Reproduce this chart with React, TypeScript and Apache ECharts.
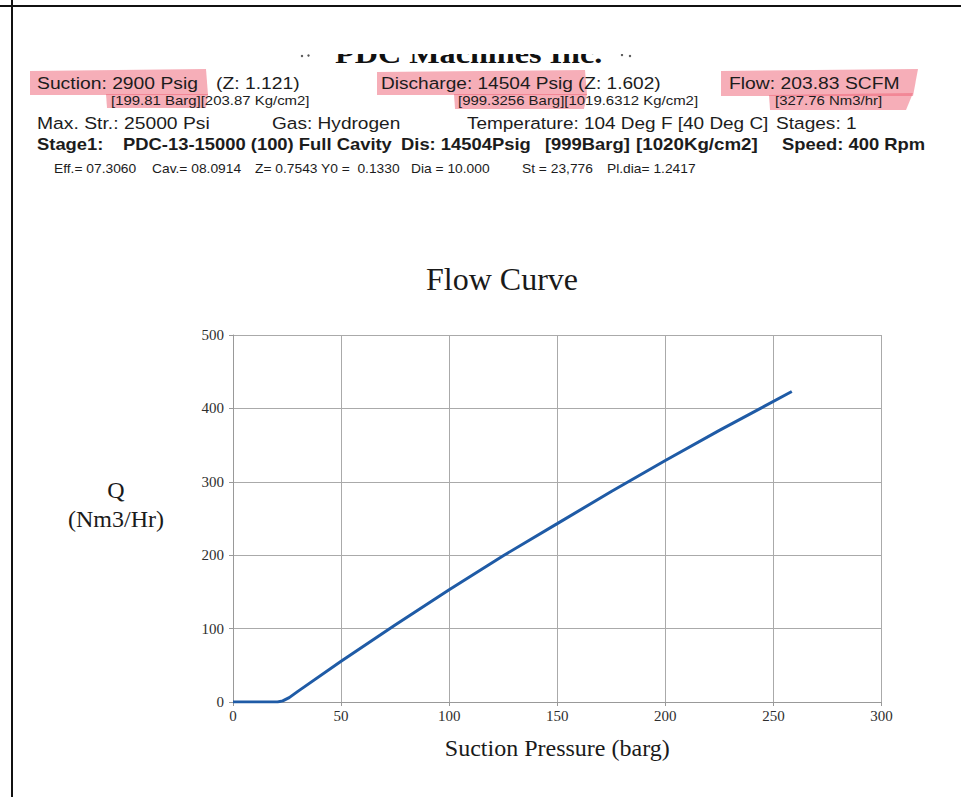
import React, { useEffect, useRef } from "react";
import * as echarts from "echarts";

// Flow curve data
const suctionPressure = [0, 20.6, 23, 26, 30, 50, 75, 100, 125, 150, 175, 200, 225, 258.5];
const flowNm3 = [0, 0, 1.5, 6, 14.5, 55.5, 104.8, 153, 199.3, 243, 286.8, 329, 370, 423];

const xMin = 0;
const xMax = 300;
const xInterval = 50;
const yMin = 0;
const yMax = 500;
const yInterval = 100;

const SANS = "Liberation Sans, Arial, sans-serif";
const SERIF = "Liberation Serif, Times New Roman, serif";
const STRETCH = 1.15;

type Piece = { text: string; x: number; y: number; size: number; bold?: boolean };

const headerPieces: Piece[] = [
  { text: "Suction: 2900 Psig", x: 37, y: 83.7, size: 16.8 },
  { text: "(Z: 1.121)", x: 216, y: 83.7, size: 16.8 },
  { text: "Discharge: 14504 Psig", x: 381, y: 83.7, size: 16.6 },
  { text: "(Z: 1.602)", x: 578, y: 83.7, size: 16.6 },
  { text: "Flow: 203.83 SCFM", x: 729, y: 83.7, size: 16.8 },
  { text: "[199.81 Barg][203.87 Kg/cm2]", x: 111, y: 100.3, size: 13 },
  { text: "[999.3256 Barg][1019.6312 Kg/cm2]", x: 458, y: 100.3, size: 13 },
  { text: "[327.76 Nm3/hr]", x: 775, y: 100.3, size: 13 },
  { text: "Max. Str.: 25000 Psi", x: 37, y: 123, size: 16.8 },
  { text: "Gas: Hydrogen", x: 272, y: 123, size: 16.6 },
  { text: "Temperature: 104 Deg F [40 Deg C]", x: 467, y: 123, size: 16.5 },
  { text: "Stages: 1", x: 776, y: 123, size: 16.6 },
  { text: "Stage1:", x: 37, y: 144, size: 16, bold: true },
  { text: "PDC-13-15000 (100) Full Cavity", x: 123, y: 144, size: 16, bold: true },
  { text: "Dis: 14504Psig", x: 401, y: 144, size: 16, bold: true },
  { text: "[999Barg]", x: 545, y: 144, size: 16, bold: true },
  { text: "[1020Kg/cm2]", x: 636, y: 144, size: 16.3, bold: true },
  { text: "Speed: 400 Rpm", x: 782, y: 144, size: 16, bold: true },
  { text: "Eff.= 07.3060", x: 54, y: 169, size: 12 },
  { text: "Cav.= 08.0914", x: 152, y: 169, size: 12 },
  { text: "Z= 0.7543", x: 255, y: 169, size: 12 },
  { text: "Y0 =  0.1330", x: 321, y: 169, size: 12 },
  { text: "Dia = 10.000", x: 411, y: 169, size: 12 },
  { text: "St = 23,776", x: 522, y: 169, size: 12 },
  { text: "Pl.dia= 1.2417", x: 607, y: 169, size: 12 },
];

const highlightShapes: number[][][] = [
  [[30, 71], [206, 69], [208, 95], [30, 95]],
  [[106, 94], [208, 94], [206, 108], [107, 108]],
  [[377, 72], [585, 70], [587, 95], [377, 95]],
  [[454, 94], [587, 94], [584, 109], [455, 109]],
  [[721, 71], [918, 69], [913, 96], [721, 96]],
  [[769, 95], [913, 93], [906, 110], [770, 110]],
];

export default function App() {
  const ref = useRef<HTMLDivElement>(null);

  useEffect(() => {
    if (!ref.current) return;
    const chart = echarts.init(ref.current, undefined, { renderer: "svg" });

    const graphic: any[] = [];
    highlightShapes.forEach((pts) => {
      graphic.push({
        type: "polygon",
        z: 1,
        shape: { points: pts },
        style: { fill: "rgba(238,100,118,0.52)" },
      });
    });
    headerPieces.forEach((p) => {
      graphic.push({
        type: "text",
        z: 2,
        x: p.x,
        y: p.y,
        scaleX: STRETCH,
        style: {
          text: p.text,
          fontFamily: SANS,
          fontSize: p.size,
          fontWeight: p.bold ? "bold" : "normal",
          fill: "#1c1c1c",
          align: "left",
          verticalAlign: "middle",
        },
      });
    });
    // Company name, cut off at the top of the scan (covered by a white band below)
    graphic.push({
      type: "text",
      z: 2,
      x: 335,
      y: 54,
      scaleX: STRETCH,
      style: {
        text: "PDC Machines Inc.",
        fontFamily: SERIF,
        fontSize: 28,
        fontWeight: "bold",
        fill: "#111",
        align: "left",
        verticalAlign: "middle",
      },
    });
    [[302, 56], [308.5, 55.5], [622, 55], [630, 56]].forEach(([cx, cy]) => {
      graphic.push({ type: "circle", z: 2, shape: { cx, cy, r: 1.2 }, style: { fill: "#555" } });
    });
    // Page borders
    graphic.push({ type: "rect", z: 4, shape: { x: 0, y: 5, width: 961, height: 2 }, style: { fill: "#111" } });
    graphic.push({ type: "rect", z: 4, shape: { x: 11, y: 0, width: 2, height: 797 }, style: { fill: "#111" } });

    const tickLabel = { fontFamily: SERIF, fontSize: 15, color: "#2e2e2e" };

    chart.setOption({
      animation: false,
      backgroundColor: "#ffffff",
      title: {
        text: "Flow Curve",
        left: 497,
        top: 258,
        textAlign: "center",
        textStyle: { fontFamily: SERIF, fontSize: 32, fontWeight: "normal", color: "#1a1a1a" },
      },
      grid: { left: 233, right: 79.5, top: 335, bottom: 95, containLabel: false },
      xAxis: {
        type: "value",
        min: xMin,
        max: xMax,
        interval: xInterval,
        name: "Suction Pressure (barg)",
        nameLocation: "middle",
        nameGap: 34,
        nameTextStyle: { fontFamily: SERIF, fontSize: 24, color: "#1a1a1a" },
        axisLine: { show: true, lineStyle: { color: "#999", width: 1 } },
        axisTick: { show: true, length: 4, lineStyle: { color: "#999" } },
        axisLabel: { ...tickLabel, margin: 6 },
        splitLine: { show: true, lineStyle: { color: "#aaaaaa", width: 1 } },
      },
      yAxis: {
        type: "value",
        min: yMin,
        max: yMax,
        interval: yInterval,
        name: "Q\n(Nm3/Hr)\n ",
        nameLocation: "middle",
        nameRotate: 0,
        nameGap: 117,
        nameTextStyle: {
          fontFamily: SERIF,
          fontSize: 24,
          lineHeight: 28.5,
          color: "#1a1a1a",
          align: "center",
        },
        axisLine: { show: true, lineStyle: { color: "#999", width: 1 } },
        axisTick: { show: true, length: 4, lineStyle: { color: "#999" } },
        axisLabel: { ...tickLabel, margin: 9 },
        splitLine: { show: true, lineStyle: { color: "#aaaaaa", width: 1 } },
      },
      series: [
        {
          type: "line",
          data: suctionPressure.map((x, i) => [x, flowNm3[i]]),
          showSymbol: false,
          smooth: false,
          lineStyle: { color: "#1f5ba6", width: 3 },
          itemStyle: { color: "#1f5ba6" },
        },
      ],
      graphic,
    });

    return () => chart.dispose();
  }, []);

  return (
    <div style={{ position: "absolute", left: 0, top: 0, width: 961, height: 797, background: "#fff" }}>
      <div ref={ref} style={{ position: "absolute", left: 0, top: 0, width: 961, height: 797 }} />
      <div
        style={{
          position: "absolute",
          left: 13,
          top: 7,
          width: 948,
          height: 47,
          background: "#fff",
          pointerEvents: "none",
        }}
      />
    </div>
  );
}
